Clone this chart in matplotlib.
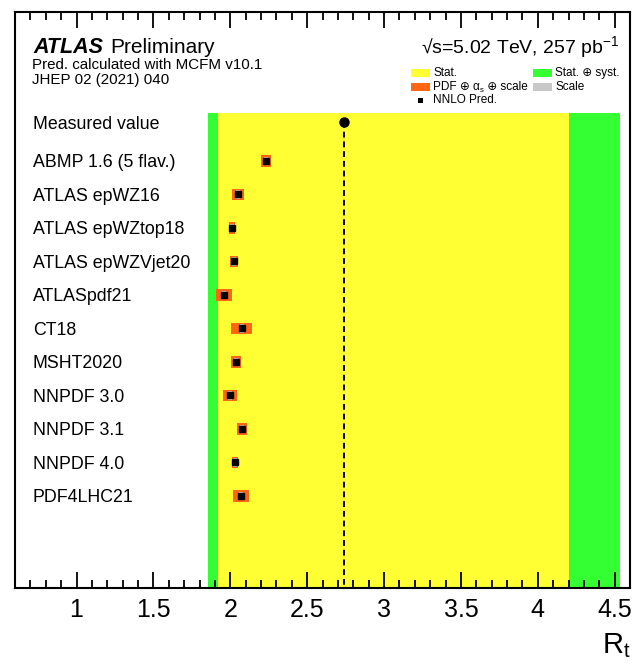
import numpy as np
import matplotlib
matplotlib.use("Agg")
import matplotlib.pyplot as plt
import matplotlib.transforms as mtransforms
from matplotlib.patches import Rectangle
from matplotlib.ticker import MultipleLocator

plt.rcParams["font.family"] = ["Liberation Sans", "DejaVu Sans"]
plt.rcParams["mathtext.fontset"] = "custom"
plt.rcParams["mathtext.rm"] = "Liberation Sans"
plt.rcParams["mathtext.it"] = "Liberation Sans:italic"
plt.rcParams["mathtext.bf"] = "Liberation Sans:bold"

# PDF sets and NNLO predictions
pdf_sets = ["ABMP 1.6 (5 flav.)", "ATLAS epWZ16", "ATLAS epWZtop18",
            "ATLAS epWZVjet20", "ATLASpdf21", "CT18", "MSHT2020",
            "NNPDF 3.0", "NNPDF 3.1", "NNPDF 4.0", "PDF4LHC21"]
pred = [2.233, 2.05, 2.011, 2.024, 1.959, 2.076, 2.037, 1.998, 2.076, 2.031, 2.07]
pdf_unc = [0.030, 0.037, 0.022, 0.027, 0.054, 0.068, 0.030, 0.048, 0.033, 0.020, 0.050]
scale_unc = [0.014, 0.014, 0.014, 0.014, 0.014, 0.014, 0.014, 0.014, 0.014, 0.014, 0.014]

# measurement
measured = 2.74
stat_lo, stat_hi = 0.82, 1.46
tot_lo, tot_hi = 0.885, 1.795

YELLOW = "#FFFF33"
GREEN = "#33FF33"
ORANGE = "#FF6611"
GREY = "#C8C8C8"

W, H = 634, 666
fig = plt.figure(figsize=(W / 100, H / 100), dpi=100)
ax = fig.add_axes([15 / W, 78 / H, 615 / W, 576 / H])

y_top, y_bot = -3.284, 13.91
band_top = -0.269
ax.set_xlim(0.6, 4.6)
ax.set_ylim(y_bot, y_top)

# measurement bands
ax.fill_betweenx([band_top, y_bot], measured - tot_lo, measured + tot_hi,
                 color=GREEN, lw=0)
ax.fill_betweenx([band_top, y_bot], measured - stat_lo, measured + stat_hi,
                 color=YELLOW, lw=0)
ax.plot([measured, measured], [0, y_bot], color="k", lw=1.4, dashes=(3, 2))
ax.plot(measured, 0, "o", color="k", ms=6.5)

# predictions
rows = np.arange(len(pdf_sets)) + 1.16
p = np.array(pred)
u = np.array(pdf_unc)
s = np.array(scale_unc)
ax.barh(rows, 2 * u, left=p - u, height=0.34, color=ORANGE, lw=0)
ax.barh(rows, 2 * s, left=p - s, height=0.26, color=GREY, lw=0)
ax.plot(p, rows, "s", color="k", ms=5, lw=0)

# row labels
trans = mtransforms.blended_transform_factory(ax.transAxes, ax.transData)
ax.text(0.029, 0, "Measured value", transform=trans, va="center_baseline",
        fontsize=12.8)
for r, name in zip(rows, pdf_sets):
    ax.text(0.029, r, name, transform=trans, va="center_baseline", fontsize=12.8)

# axes style
ax.set_yticks([])
ax.set_xticks(np.arange(1, 4.51, 0.5))
ax.set_xticklabels(["1", "1.5", "2", "2.5", "3", "3.5", "4", "4.5"])
ax.xaxis.set_minor_locator(MultipleLocator(0.1))
ax.tick_params(axis="x", which="both", direction="in", top=True, bottom=True,
               width=1.3)
ax.tick_params(axis="x", which="major", length=11.5, labelsize=18, pad=7)
ax.tick_params(axis="x", which="minor", length=5.5)
for sp in ax.spines.values():
    sp.set_linewidth(1.5)

fig.text(631 / W, 1 - 653 / H, r"$\mathregular{R_t}$", ha="right",
         va="baseline", fontsize=21)

# header texts
fig.text(33 / W, 1 - 53 / H, "ATLAS", fontsize=15.5, fontweight="bold",
         fontstyle="italic", va="baseline")
fig.text(110 / W, 1 - 53 / H, "Preliminary", fontsize=15, va="baseline")
fig.text(32 / W, 1 - 69 / H, "Pred. calculated with MCFM v10.1", fontsize=10.9,
         va="baseline")
fig.text(32 / W, 1 - 84 / H, "JHEP 02 (2021) 040", fontsize=10.9, va="baseline")
fig.text(619 / W, 1 - 53 / H, "\u221as=5.02 TeV, 257 pb$^{-1}$",
         fontsize=14, ha="right", va="baseline")

# legend
def swatch(x0, y0, color):
    fig.patches.append(Rectangle((x0 / W, 1 - (y0 + 8) / H), 19 / W, 8 / H,
                                 transform=fig.transFigure, color=color,
                                 lw=0))

swatch(411, 69, YELLOW)
swatch(411, 83, ORANGE)
swatch(533, 69, GREEN)
swatch(533, 83, GREY)
fig.patches.append(Rectangle((418 / W, 1 - 102.5 / H), 5 / W, 5 / H,
                             transform=fig.transFigure, color="k", lw=0))
fs = 8.5
fig.text(433 / W, 1 - 73 / H, "Stat.", fontsize=fs, va="center")
fig.text(433 / W, 1 - 100 / H, "NNLO Pred.", fontsize=fs, va="center")
fig.text(555 / W, 1 - 73 / H, "Stat. \u2295 syst.", fontsize=fs, va="center")
fig.text(555 / W, 1 - 87 / H, "Scale", fontsize=fs, va="center")

# "PDF (+) alpha_s (+) scale" built from pieces so the (+) glyph can fall back
fig.canvas.draw()
renderer = fig.canvas.get_renderer()
t1 = fig.text(433 / W, 1 - 90 / H, "PDF \u2295 \u03b1", fontsize=fs,
              va="baseline")
x1 = t1.get_window_extent(renderer).x1
t2 = fig.text(x1 / W, 1 - 92 / H, "s", fontsize=fs * 0.65, va="baseline")
x2 = t2.get_window_extent(renderer).x1
fig.text(x2 / W, 1 - 90 / H, " \u2295 scale", fontsize=fs, va="baseline")

fig.savefig("out.png", dpi=100)
